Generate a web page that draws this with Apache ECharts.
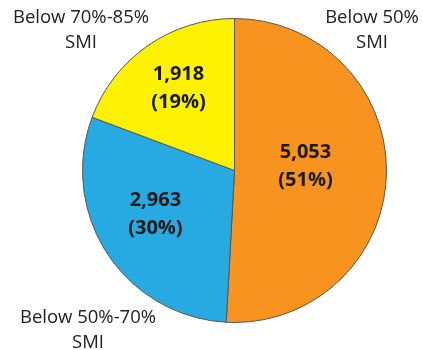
<!DOCTYPE html>
<html>
<head>
<meta charset="utf-8">
<script src="https://cdn.jsdelivr.net/npm/echarts@6/dist/echarts.min.js"></script>
<style>
  html, body { margin: 0; padding: 0; background: #fff; }
  #main { width: 423px; height: 350px; }
</style>
</head>
<body>
<div id="main"></div>
<script>
// 数据
var categories = ['Below 50%\nSMI', 'Below 50%-70%\nSMI', 'Below 70%-85%\nSMI'];
var counts = [5053, 2963, 1918];
var percents = [51, 30, 19];

var colors = ['#F7931E', '#27AAE1', '#FFF200'];
// 内部标签偏移 / 外部标签位置
var innerOffsets = [[-8, -6], [-13, 1], [-11, -17]];
var outerPos = [[372, 30], [88, 330], [81, 30]];

var fontFamily = '"Open Sans", "Noto Sans", sans-serif';

var myChart = echarts.init(document.getElementById('main'));

var innerData = [];
var outerData = [];
for (var i = 0; i < counts.length; i++) {
    innerData.push({
        name: categories[i],
        value: counts[i],
        itemStyle: { color: colors[i] },
        label: { offset: innerOffsets[i] }
    });
    outerData.push({ name: categories[i], value: counts[i] });
}

var option = {
    animation: false,
    series: [
        {
            type: 'pie',
            center: [234.5, 170.5],
            radius: [0, 152],
            startAngle: 90,
            clockwise: true,
            data: innerData,
            itemStyle: { borderColor: '#555', borderWidth: 1 },
            label: {
                show: true,
                position: 'inside',
                formatter: function (p) {
                    return echarts.format.addCommas(p.value) + '\n(' + percents[p.dataIndex] + '%)';
                },
                color: '#1a1a1a',
                fontFamily: fontFamily,
                fontWeight: 'bold',
                fontSize: 20,
                lineHeight: 28
            },
            labelLine: { show: false },
            emphasis: { disabled: true }
        },
        {
            type: 'pie',
            center: [234.5, 170.5],
            radius: [0, 152],
            startAngle: 90,
            silent: true,
            data: outerData,
            itemStyle: { color: 'rgba(0,0,0,0)' },
            label: {
                show: true,
                position: 'outside',
                alignTo: 'none',
                overflow: 'none',
                width: 300,
                formatter: '{b}',
                color: '#222',
                fontFamily: fontFamily,
                fontSize: 18.5,
                lineHeight: 25,
                align: 'center'
            },
            labelLine: { show: false },
            emphasis: { disabled: true },
            labelLayout: function (params) {
                return {
                    x: outerPos[params.dataIndex][0],
                    y: outerPos[params.dataIndex][1],
                    align: 'center',
                    verticalAlign: 'middle',
                    hideOverlap: false
                };
            }
        }
    ]
};

myChart.setOption(option);
</script>
</body>
</html>
